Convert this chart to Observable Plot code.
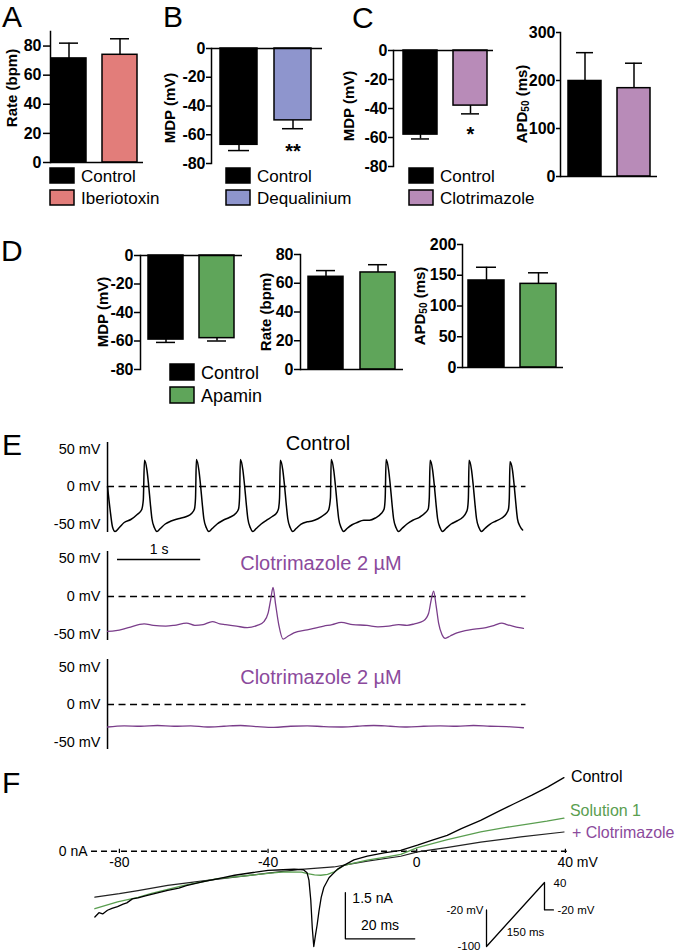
<!DOCTYPE html>
<html>
<head>
<meta charset="utf-8">
<script src="https://cdn.jsdelivr.net/npm/d3@7"></script>
<script src="https://cdn.jsdelivr.net/npm/@observablehq/plot@0.6"></script>
<style>
  html, body { margin: 0; padding: 0; background: #fff; }
  #fig { position: relative; width: 677px; height: 951px; overflow: hidden; background: #fff;
         font-family: "Liberation Sans", Arial, Helvetica, sans-serif; }
  #fig svg { position: absolute; overflow: visible; background: transparent; }
</style>
</head>
<body>
<div id="fig"></div>
<script>
// ---------------- DATA ----------------
// Panel A
const groupsA = ["Control", "Iberiotoxin"];
const rateA = [71.5, 74];
const rateSemA = [10.5, 11];
const colorsA = ["#000000", "#e27d7a"];
// Panel B
const groupsB = ["Control", "Dequalinium"];
const mdpB = [-67, -50];
const mdpSemB = [4, 5.8];
const sigB = ["", "**"];
const colorsB = ["#000000", "#8e95cd"];
// Panel C
const groupsC = ["Control", "Clotrimazole"];
const mdpC = [-58, -38];
const mdpSemC = [3, 5.7];
const sigC = ["", "*"];
const apdC = [199, 184];
const apdSemC = [59, 52];
const colorsC = ["#000000", "#b88bb8"];
// Panel D
const groupsD = ["Control", "Apamin"];
const mdpD = [-59, -58];
const mdpSemD = [2, 2];
const rateD = [64.5, 67.5];
const rateSemD = [4.3, 5.4];
const apdD = [141.5, 136];
const apdSemD = [21.5, 18];
const colorsD = ["#000000", "#5fa55a"];

// Tick values
const ticksRate = [0, 20, 40, 60, 80];
const ticksMDP = [-80, -60, -40, -20, 0];
const ticksAPDC = [0, 100, 200, 300];
const ticksAPDD = [0, 50, 100, 150, 200];

// Panel E traces: [time s, membrane potential mV]
const eTicks = [-50, 0, 50];
const controlTrace = [
  [0.00, 0], [0.03, -30], [0.06, -54], [0.09, -60], [0.14, -55], [0.20, -48], [0.28, -44], [0.36, -37], [0.41, -31], [0.43, -18],
  [0.444, 35], [0.474, 22], [0.494, 2], [0.514, -22], [0.534, -43], [0.564, -55], [0.594, -60], [0.634, -56], [0.694, -50], [0.764, -46], [0.85, -43], [0.95, -40], [1.01, -36], [1.045, -30], [1.058, -15],
  [1.068, 36], [1.098, 22], [1.118, 2], [1.138, -22], [1.158, -43], [1.188, -55], [1.218, -60], [1.258, -56], [1.318, -50], [1.39, -45], [1.47, -41], [1.54, -36], [1.575, -30], [1.587, -15],
  [1.597, 36], [1.627, 22], [1.647, 2], [1.667, -22], [1.687, -43], [1.717, -55], [1.747, -60], [1.787, -56], [1.847, -50], [1.91, -45], [1.98, -40], [2.04, -34], [2.058, -28], [2.068, -15],
  [2.077, 35], [2.107, 22], [2.127, 2], [2.147, -22], [2.167, -43], [2.197, -55], [2.227, -60], [2.267, -56], [2.327, -50], [2.40, -47], [2.46, -46], [2.53, -43], [2.60, -38], [2.655, -32], [2.68, -15],
  [2.689, 36], [2.719, 22], [2.739, 2], [2.759, -22], [2.779, -43], [2.809, -55], [2.839, -60], [2.879, -56], [2.94, -51], [3.00, -48], [3.08, -45], [3.15, -45], [3.22, -42], [3.29, -36], [3.325, -30], [3.338, -15],
  [3.349, 36], [3.379, 22], [3.399, 2], [3.419, -22], [3.439, -43], [3.469, -55], [3.499, -60], [3.539, -56], [3.60, -50], [3.67, -45], [3.75, -41], [3.82, -35], [3.855, -30], [3.868, -15],
  [3.878, 35], [3.908, 22], [3.928, 2], [3.948, -22], [3.968, -43], [3.998, -55], [4.028, -60], [4.068, -56], [4.13, -50], [4.20, -46], [4.27, -41], [4.31, -35], [4.328, -29], [4.338, -15],
  [4.346, 35], [4.376, 22], [4.396, 2], [4.416, -22], [4.436, -43], [4.466, -55], [4.496, -60], [4.536, -56], [4.60, -50], [4.67, -46], [4.74, -42], [4.795, -36], [4.82, -30], [4.83, -15],
  [4.838, 33], [4.868, 22], [4.888, 2], [4.908, -22], [4.928, -43], [4.958, -53], [4.99, -58]
];
const clotTrace1 = [
  [0.00, -46], [0.10, -45], [0.25, -41], [0.44, -36], [0.55, -38], [0.70, -39], [0.80, -38], [0.95, -35], [1.05, -38], [1.15, -37],
  [1.26, -33], [1.35, -36], [1.42, -37], [1.55, -39], [1.68, -41], [1.80, -38], [1.88, -33], [1.93, -22], [1.96, -5], [1.99, 12],
  [2.02, -10], [2.06, -38], [2.11, -56], [2.16, -53], [2.24, -48], [2.40, -44], [2.60, -39], [2.70, -37], [2.81, -34], [2.95, -37],
  [3.12, -38], [3.25, -40], [3.38, -39], [3.50, -37], [3.60, -38], [3.69, -36], [3.80, -32], [3.86, -22], [3.89, -5], [3.92, 7],
  [3.95, -12], [3.98, -35], [4.02, -50], [4.06, -55], [4.12, -52], [4.20, -48], [4.30, -45], [4.41, -43], [4.55, -41], [4.65, -38],
  [4.74, -35], [4.80, -37], [4.87, -39], [4.95, -41], [5.00, -42]
];
const clotTrace2 = [
  [0.0, -30], [0.2, -28.5], [0.4, -29], [0.6, -28], [0.8, -29], [1.0, -28.5], [1.2, -30], [1.4, -29], [1.6, -28], [1.8, -29.5],
  [2.0, -30.5], [2.2, -29], [2.4, -28.5], [2.6, -29.5], [2.8, -30], [3.0, -29], [3.2, -28], [3.4, -29], [3.6, -30], [3.8, -29],
  [4.0, -28.5], [4.2, -29], [4.4, -28], [4.6, -29], [4.8, -29.5], [5.0, -31]
];
const timeBar = [{t: 0.12, len: 1, v: 48.7, label: "1 s"}];

// Panel F: current (nA) vs ramp voltage (mV)
const fTicks = [-80, -40, 0, 40];
const fControl = [
  [-86.6, -2.14], [-85.5, -2.00], [-84.5, -2.04], [-83.2, -1.92], [-82, -1.86], [-80.5, -1.80], [-79, -1.72], [-78, -1.68], [-76.5, -1.55],
  [-75, -1.52], [-73, -1.45], [-70, -1.36], [-67, -1.27], [-64, -1.20], [-62, -1.12], [-58, -1.00], [-53, -0.88], [-49, -0.78],
  [-44, -0.69], [-40, -0.62], [-36, -0.60], [-33, -0.58], [-30.5, -0.60], [-29.5, -0.70], [-29, -0.94], [-28.5, -1.6], [-28.1, -2.5],
  [-27.7, -3.1], [-27.2, -2.7], [-26.8, -2.4], [-26.3, -1.95], [-25.7, -1.5], [-25, -1.18], [-23.6, -0.86], [-21.3, -0.58], [-19.6, -0.46],
  [-16.9, -0.28], [-13.3, -0.16], [-8.8, -0.05], [-4.3, 0.03], [0.2, 0.20], [4, 0.36], [8.2, 0.52], [12, 0.74], [17.2, 1.01],
  [22, 1.30], [26.2, 1.55], [31, 1.83], [35.2, 2.09], [39.6, 2.40]
];
const fSolution1 = [
  [-86.6, -1.87], [-80.5, -1.65], [-75, -1.50], [-71.6, -1.38], [-67, -1.24], [-62.6, -1.11], [-58, -1.00], [-53.6, -0.89], [-49, -0.83],
  [-44.7, -0.78], [-40, -0.72], [-35.7, -0.67], [-31, -0.68], [-29.4, -0.73], [-27.5, -0.77], [-25.8, -0.78], [-24, -0.75], [-22.2, -0.67],
  [-19.6, -0.46], [-16, -0.36], [-13.3, -0.29], [-8, -0.18], [-4.3, -0.10], [0.2, 0.12], [8, 0.37], [17.2, 0.63], [24, 0.78],
  [30.7, 0.90], [35, 0.98], [39.6, 1.08]
];
const fClotrimazole = [
  [-86.6, -1.49], [-80, -1.38], [-75, -1.28], [-67, -1.11], [-58, -0.97], [-49, -0.84], [-40, -0.71], [-31.2, -0.59], [-22.3, -0.51],
  [-18, -0.42], [-13.3, -0.32], [-4.3, -0.16], [0.2, -0.02], [8, 0.12], [17.2, 0.30], [28, 0.47], [39.6, 0.63]
];
const fSeriesNames = ["Control", "Solution 1", "+ Clotrimazole"];
const fSeriesColors = ["#000000", "#5a9e50", "#222222"];
const fLabelColors = ["#000000", "#5a9e50", "#8b4a9c"];
// scale bars: 1.5 nA and 20 ms (ramp 140 mV / 150 ms)
const fScaleBar = {v0: -19.2, i0: -2.85, nA: 1.5, ms: 20, mvPerMs: 140 / 150};
// Voltage protocol inset: [time ms, mV]
const protocol = [[0, -20], [0, -100], [150, 40], [150, -20], [173, -20]];

// ---------------- HELPERS ----------------
const fig = document.getElementById("fig");
const FONT = '"Liberation Sans", Arial, Helvetica, sans-serif';
function place(svg, left, top) {
  svg.style.left = left + "px";
  svg.style.top = top + "px";
  fig.appendChild(svg);
}

function barPanel(cfg) {
  const mL = 60, mR = 6, mT = 8, mB = 8;
  const data = cfg.groups.map((g, i) => ({
    group: g, mean: cfg.means[i], sem: cfg.sems[i],
    sig: cfg.sig ? cfg.sig[i] : "", color: cfg.colors[i]
  }));
  const neg = cfg.domain[0] < 0;
  const errEnd = d => neg ? d.mean - d.sem : d.mean + d.sem;
  const r0 = cfg.barStart - cfg.x0 + mL;
  const r1 = r0 + cfg.step + cfg.barW;
  const p = (cfg.step - cfg.barW) / cfg.step;
  const chart = Plot.plot({
    width: mL + (cfg.x1 - cfg.x0) + mR,
    height: mT + (cfg.yBottom - cfg.yTop) + mB,
    marginLeft: mL, marginRight: mR, marginTop: mT, marginBottom: mB,
    style: {fontFamily: FONT, fontSize: "16px", fontWeight: "bold", background: "transparent", overflow: "visible"},
    x: {type: "band", domain: cfg.groups, range: [r0, r1], paddingInner: p, paddingOuter: 0, round: false, axis: null},
    y: {domain: cfg.domain},
    marks: [
      Plot.axisY(cfg.ticks, {tickFormat: d => String(d), tickSize: cfg.tickSize, tickPadding: cfg.tickPad, strokeWidth: 1.5, label: null}),
      Plot.ruleX(data, {x: "group", y1: "mean", y2: errEnd, stroke: "#000", strokeWidth: 1.5}),
      Plot.tickY(data, {x: "group", y: errEnd, stroke: "#000", strokeWidth: 1.5, insetLeft: 8, insetRight: 8}),
      Plot.barY(data, {x: "group", y: "mean", fill: d => d.color, stroke: "#000", strokeWidth: 1.5}),
      Plot.ruleY([0], {stroke: "#000", strokeWidth: 1.5}),
      Plot.frame({anchor: "left", stroke: "#000", strokeWidth: 1.5}),
      Plot.text(data, {x: "group", y: errEnd, text: "sig", dy: cfg.sigDy || 20, fontSize: 20, fontWeight: "bold", fill: "#000"})
    ]
  });
  place(chart, cfg.x0 - mL, cfg.yTop - mT);
}

// ---------------- PANELS A-D ----------------
barPanel({groups: groupsA, means: rateA, sems: rateSemA, colors: colorsA, domain: [0, 90], ticks: ticksRate,
  x0: 50, x1: 143, yTop: 31, yBottom: 162, barStart: 51, barW: 35, step: 51, tickSize: 7, tickPad: 2});
barPanel({groups: groupsB, means: mdpB, sems: mdpSemB, sig: sigB, sigDy: 23, colors: colorsB, domain: [-80, 0], ticks: ticksMDP,
  x0: 211, x1: 322, yTop: 48, yBottom: 163, barStart: 220, barW: 37, step: 54, tickSize: 5, tickPad: 1});
barPanel({groups: groupsC, means: mdpC, sems: mdpSemC, sig: sigC, sigDy: 21, colors: colorsC, domain: [-80, 0], ticks: ticksMDP,
  x0: 393, x1: 493, yTop: 50, yBottom: 166, barStart: 403, barW: 34, step: 50, tickSize: 5, tickPad: 1});
barPanel({groups: groupsC, means: apdC, sems: apdSemC, colors: colorsC, domain: [0, 300], ticks: ticksAPDC,
  x0: 560, x1: 657, yTop: 32, yBottom: 176, barStart: 568, barW: 33, step: 49, tickSize: 4, tickPad: 1});
barPanel({groups: groupsD, means: mdpD, sems: mdpSemD, colors: colorsD, domain: [-80, 0], ticks: ticksMDP,
  x0: 140, x1: 242, yTop: 255, yBottom: 369, barStart: 148, barW: 35, step: 51, tickSize: 6, tickPad: 1});
barPanel({groups: groupsD, means: rateD, sems: rateSemD, colors: colorsD, domain: [0, 80], ticks: ticksRate,
  x0: 300, x1: 403, yTop: 254, yBottom: 369, barStart: 308, barW: 35, step: 52, tickSize: 6, tickPad: 1});
barPanel({groups: groupsD, means: apdD, sems: apdSemD, colors: colorsD, domain: [0, 200], ticks: ticksAPDD,
  x0: 462, x1: 563, yTop: 244, yBottom: 367, barStart: 468, barW: 36, step: 52, tickSize: 5, tickPad: 1});

// ---------------- PANEL E ----------------
function tracePanel(cfg) {
  const mL = 60, mR = 10, mT = 0, mB = 0;
  const x0 = 107, pxPerS = 83.2, tMax = 5.03;
  const rows = cfg.trace.map(([t, v]) => ({t, v}));
  const marks = [
    Plot.axisY(eTicks, {tickFormat: d => `${d} mV`, tickSize: 0, tickPadding: 7, label: null}),
    Plot.ruleY([0], {stroke: "#000", strokeWidth: 1.5, strokeDasharray: "7,4.5"}),
    Plot.ruleX([0], {stroke: "#000", strokeWidth: 1.5}),
    Plot.line(rows, {x: "t", y: "v", stroke: cfg.color, strokeWidth: cfg.strokeWidth, curve: "monotone-x"})
  ];
  if (cfg.bar) {
    marks.push(Plot.ruleY(cfg.bar, {x1: "t", x2: d => d.t + d.len, y: "v", stroke: "#000", strokeWidth: 1.3}));
    marks.push(Plot.text(cfg.bar, {x: d => d.t + d.len / 2, y: "v", text: "label", dy: -10, fontSize: 14}));
  }
  const chart = Plot.plot({
    width: mL + tMax * pxPerS + mR,
    height: mT + (cfg.yBottom - cfg.yTop) + mB,
    marginLeft: mL, marginRight: mR, marginTop: mT, marginBottom: mB,
    style: {fontFamily: FONT, fontSize: "14.5px", background: "transparent", overflow: "visible"},
    x: {domain: [0, tMax], axis: null},
    y: {domain: cfg.domain},
    marks
  });
  place(chart, x0 - mL, cfg.yTop - mT);
}
tracePanel({trace: controlTrace, color: "#000", strokeWidth: 1.5, domain: [-61.3, 58.7], yTop: 442, yBottom: 532});
tracePanel({trace: clotTrace1, color: "#7a3d8a", strokeWidth: 1.3, domain: [-57.9, 59.2], yTop: 551, yBottom: 640, bar: timeBar});
tracePanel({trace: clotTrace2, color: "#7a3d8a", strokeWidth: 1.3, domain: [-60, 60], yTop: 659, yBottom: 749});

// ---------------- PANEL F ----------------
(function () {
  const mL = 50, mR = 115, mT = 10, mB = 2;
  const vMin = -87.5, vMax = 40.5, iMin = -3.2, iMax = 2.6;
  const pxPerMv = 3.717, pxPerNa = 30.7;
  const x0 = 416 + vMin * pxPerMv;
  const yTop = 851 - iMax * pxPerNa;
  const series = [fControl, fSolution1, fClotrimazole].map((s, k) =>
    s.map(([v, i]) => ({v, i, name: fSeriesNames[k]})));
  const labelOffsets = [[7, -1], [6, -7], [8, 1]];
  const endLabels = series.map((s, k) =>
    Plot.text([s[s.length - 1]], {x: "v", y: "i", text: "name", fill: fLabelColors[k],
      dx: labelOffsets[k][0], dy: labelOffsets[k][1], textAnchor: "start", fontSize: 16}));
  const sb = fScaleBar;
  const sbMv = sb.ms * sb.mvPerMs;
  const sbPath = [{v: sb.v0, i: sb.i0 + sb.nA}, {v: sb.v0, i: sb.i0}, {v: sb.v0 + sbMv, i: sb.i0}];
  const tickLab = fTicks.slice(0, -1);
  const lastTick = fTicks.slice(-1);
  const chart = Plot.plot({
    width: mL + (vMax - vMin) * pxPerMv + mR,
    height: mT + (iMax - iMin) * pxPerNa + mB,
    marginLeft: mL, marginRight: mR, marginTop: mT, marginBottom: mB,
    style: {fontFamily: FONT, fontSize: "14px", background: "transparent", overflow: "visible"},
    x: {domain: [vMin, vMax], axis: null},
    y: {domain: [iMin, iMax], axis: null},
    marks: [
      Plot.ruleY([0], {stroke: "#000", strokeWidth: 1.5, strokeDasharray: "6,4"}),
      Plot.ruleX(fTicks, {x: d => d, y1: -0.07, y2: 0.07, stroke: "#000", strokeWidth: 1.2}),
      Plot.text(tickLab, {x: d => d, y: 0, text: d => String(d), dy: 11}),
      Plot.text(lastTick, {x: d => d, y: 0, text: d => `${d} mV`, dy: 11, dx: -8, textAnchor: "start"}),
      Plot.text(["0 nA"], {frameAnchor: "left", y: 0, text: d => d, textAnchor: "end", dx: -4}),
      Plot.line(series[2], {x: "v", y: "i", stroke: fSeriesColors[2], strokeWidth: 1.2, curve: "linear"}),
      Plot.line(series[1], {x: "v", y: "i", stroke: fSeriesColors[1], strokeWidth: 1.3, curve: "linear"}),
      Plot.line(series[0], {x: "v", y: "i", stroke: fSeriesColors[0], strokeWidth: 1.3, curve: "linear"}),
      ...endLabels,
      Plot.line(sbPath, {x: "v", y: "i", stroke: "#000", strokeWidth: 1.3}),
      Plot.text([{v: sb.v0, i: sb.i0 + sb.nA, t: `${sb.nA} nA`}], {x: "v", y: "i", text: "t", textAnchor: "start", dx: 7, dy: 6}),
      Plot.text([{v: sb.v0 + sbMv / 2, i: sb.i0, t: `${sb.ms} ms`}], {x: "v", y: "i", text: "t", dy: -13})
    ]
  });
  place(chart, x0 - mL, yTop - mT);
})();

// Voltage protocol inset
(function () {
  const mL = 45, mR = 45, mT = 10, mB = 10;
  const pxPerMs = 0.3867, pxPerMv = 64 / 140;
  const rows = protocol.map(([t, v]) => ({t, v}));
  const n = rows.length;
  const lab = (d, text, textAnchor, dx, dy) =>
    Plot.text([d], {x: "t", y: "v", text: () => text, textAnchor, dx, dy});
  const chart = Plot.plot({
    width: mL + 175 * pxPerMs + mR,
    height: mT + 140 * pxPerMv + mB,
    marginLeft: mL, marginRight: mR, marginTop: mT, marginBottom: mB,
    style: {fontFamily: FONT, fontSize: "11.5px", background: "transparent", overflow: "visible"},
    x: {domain: [0, 175], axis: null},
    y: {domain: [-100, 40], axis: null},
    marks: [
      Plot.line(rows, {x: "t", y: "v", stroke: "#000", strokeWidth: 1.3}),
      lab(rows[0], `${rows[0].v} mV`, "end", -3, 0),
      lab(rows[1], `${rows[1].v}`, "end", -6, 0),
      lab(rows[2], `${rows[2].v}`, "start", 9, 1),
      lab(rows[n - 1], `${rows[n - 1].v} mV`, "start", 4, 0),
      lab({t: (rows[1].t + rows[2].t) / 2, v: (rows[1].v + rows[2].v) / 2}, `${rows[2].t} ms`, "middle", 10, 18)
    ]
  });
  place(chart, 486 - mL, 882 - mT);
})();

// ---------------- TEXT OVERLAY (letters, titles, legends) ----------------
const ov = d3.create("svg").attr("width", 677).attr("height", 951)
  .style("left", "0px").style("top", "0px").style("pointer-events", "none")
  .attr("font-family", FONT);

// Panel letters
[["A", 2, 27], ["B", 163, 27], ["C", 352, 28], ["D", 1, 261], ["E", 2, 455], ["F", 2, 793]].forEach(([t, x, y]) =>
  ov.append("text").attr("x", x).attr("y", y).attr("font-size", 30).text(t));

// Axis titles
function ylab(x, y, parts) {
  const t = ov.append("text").attr("transform", `translate(${x},${y}) rotate(-90)`)
    .attr("text-anchor", "middle").attr("dominant-baseline", "central")
    .attr("font-weight", "bold").attr("font-size", 15);
  let sub = false;
  parts.forEach(p => {
    if (typeof p === "string") {
      const s = t.append("tspan").text(p);
      if (sub) s.attr("dy", -4);
      sub = false;
    } else {
      t.append("tspan").attr("font-size", 10).attr("dy", 4).text(p.sub);
      sub = true;
    }
  });
}
ylab(11, 88, ["Rate (bpm)"]);
ylab(169, 108, ["MDP (mV)"]);
ylab(348, 106, ["MDP (mV)"]);
ylab(521, 104, ["APD", {sub: "50"}, " (ms)"]);
ylab(102, 312, ["MDP (mV)"]);
ylab(265, 312, ["Rate (bpm)"]);
ylab(419, 306, ["APD", {sub: "50"}, " (ms)"]);

// Legends
function legend(x, y, groups, colors, size, boxH, gap) {
  groups.forEach((g, i) => {
    const top = y + i * gap;
    ov.append("rect").attr("x", x).attr("y", top).attr("width", 24).attr("height", boxH)
      .attr("fill", colors[i]).attr("stroke", "#000").attr("stroke-width", 1.5);
    ov.append("text").attr("x", x + 31).attr("y", top + boxH - 1).attr("font-size", size).text(g);
  });
}
legend(50, 168, groupsA, colorsA, 17, 15, 22);
legend(226, 168, groupsB, colorsB, 17, 15, 22);
legend(409, 168, groupsC, colorsC, 17, 15, 22);
legend(170, 364, groupsD, colorsD, 18, 16, 23);

// Trace titles
[["Control", 318, 450, "#000"], ["Clotrimazole 2 µM", 321, 570, "#8b4a9c"], ["Clotrimazole 2 µM", 321, 684, "#8b4a9c"]]
  .forEach(([t, x, y, c]) => ov.append("text").attr("x", x).attr("y", y).attr("text-anchor", "middle")
    .attr("font-size", 20).attr("fill", c).text(t));

fig.appendChild(ov.node());
</script>
</body>
</html>
